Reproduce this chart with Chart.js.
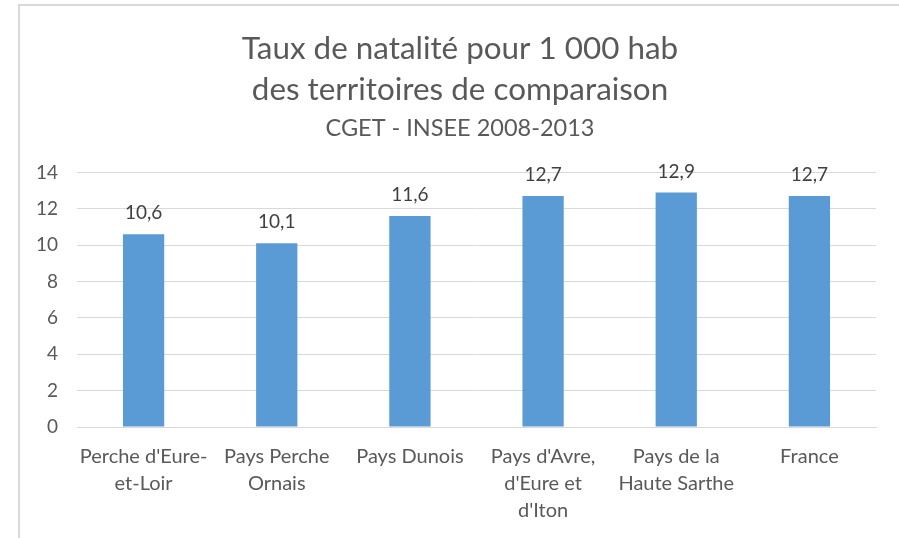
<!DOCTYPE html>
<html><head><meta charset="utf-8">
<script src="https://cdn.jsdelivr.net/npm/chart.js@4/dist/chart.umd.min.js"></script>
<style>
html,body{margin:0;padding:0;width:899px;height:538px;overflow:hidden;background:#fff;}
#frame{position:absolute;left:18px;top:4px;width:1000px;height:1000px;border-left:2px solid #d9d9d9;border-top:2px solid #d9d9d9;}
#wrap{position:absolute;left:20px;top:6px;width:880px;height:532px;}
</style></head>
<body><div id="frame"></div><div id="wrap"><canvas id="c" width="880" height="532"></canvas></div>
<script>
const categories = [["Perche d'Eure-","et-Loir"],["Pays Perche","Ornais"],["Pays Dunois"],["Pays d'Avre,","d'Eure et","d'Iton"],["Pays de la","Haute Sarthe"],["France"]];
const values = [10.6, 10.1, 11.6, 12.7, 12.9, 12.7];
const valueLabels = ["10,6","10,1","11,6","12,7","12,9","12,7"];
const yTicks = [0,2,4,6,8,10,12,14];
const titleLines = ["Taux de natalité pour 1 000 hab","des territoires de comparaison"];
const subtitleText = "CGET - INSEE 2008-2013";

const FONT = "Lato";
const labelPlugin = {
  id:'valueLabels',
  afterDatasetsDraw(chart){
    const ctx = chart.ctx;
    const meta = chart.getDatasetMeta(0);
    ctx.save();
    ctx.font = "19px " + FONT;
    ctx.fillStyle = "#404040";
    ctx.textAlign = "center";
    ctx.textBaseline = "middle";
    meta.data.forEach((el,i)=>{ ctx.fillText(valueLabels[i], el.x, el.y - 21); });
    ctx.restore();
  }
};
new Chart(document.getElementById('c'), {
  type:'bar',
  data:{labels:categories, datasets:[{data:values, backgroundColor:'#5B9BD5', categoryPercentage:1, barPercentage:0.31}]},
  plugins:[labelPlugin],
  options:{
    responsive:false, animation:false,
    layout:{padding:{left:0,right:0,top:0,bottom:0}},
    plugins:{
      legend:{display:false}, tooltip:{enabled:false},
      title:{display:true, text:titleLines, color:'#595959', font:{family:FONT,size:31.4,weight:'normal',lineHeight:1.31}, padding:{top:22,bottom:4}},
      subtitle:{display:true, text:subtitleText, color:'#595959', font:{family:FONT,size:23.5,weight:'normal',lineHeight:1.2}, padding:{top:0,bottom:30}}
    },
    scales:{
      x:{grid:{display:false,drawTicks:false}, border:{display:true,color:'#d9d9d9',width:1},
         afterFit(s){s.height=111;},
         ticks:{color:'#595959',font:{family:FONT,size:20,lineHeight:1.35},padding:16,maxRotation:0,autoSkip:false}},
      y:{min:0,max:14,afterBuildTicks(s){s.ticks=yTicks.map(v=>({value:v}));},
         afterFit(s){s.width=57;},
         grid:{color:'#d9d9d9',drawTicks:false}, border:{display:false},
         ticks:{color:'#595959',font:{family:FONT,size:19},padding:19}},
      yRight:{position:'right', min:0, max:14, display:true,
         afterFit(s){s.width=24;},
         grid:{display:false,drawTicks:false}, border:{display:false},
         ticks:{display:false}}
    }
  }
});
</script></body></html>
